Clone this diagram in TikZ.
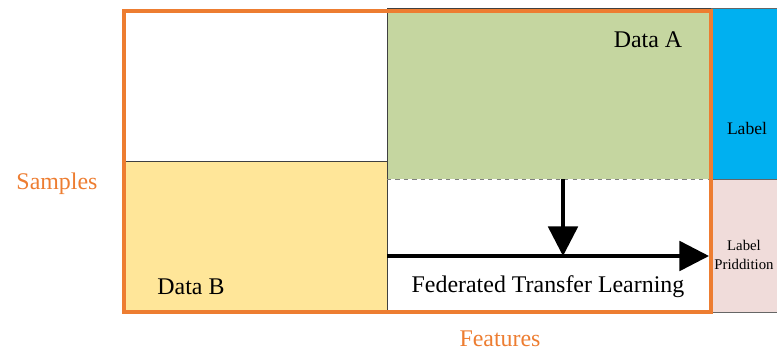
\documentclass[tikz,border=0pt]{standalone}
\usepackage{fontspec}
\setmainfont{Liberation Serif}
\usetikzlibrary{arrows.meta}

\definecolor{florange}{HTML}{ED7D31}
\definecolor{flyellow}{HTML}{FFE699}
\definecolor{flgreen}{HTML}{C5D6A0}
\definecolor{flblue}{HTML}{00B0F0}
\definecolor{flpink}{HTML}{F0DCDA}

\tikzset{
  part/.style={draw=black!75, line width=0.6pt},
  flow/.style={line width=2.5pt, -{Triangle[length=21pt,width=21pt]}},
}

\begin{document}
\begin{tikzpicture}[x=0.025cm, y=-0.025cm]
  \useasboundingbox (0,0) rectangle (777,351);

  % Datenbloecke
  \fill[flyellow] (124,161) rectangle (387,312);
  \draw[part] (124,161) -- (387,161) -- (387,312);
  \fill[flgreen] (387,8) rectangle (711,179);
  \draw[part] (387,312) -- (387,8) -- (711,8);
  \draw[black!50, dashed, line width=0.6pt] (387,179) -- (711,179);

  \begin{scope}[part, draw=black!60]
    \filldraw[fill=flblue] (711,8) rectangle (783,179);
    \filldraw[fill=flpink] (711,179) rectangle (783,312);
  \end{scope}

  \draw[florange, line width=2.7pt] (124,11) rectangle (711,312);

  % Pfeile
  \coordinate (ftl-top) at (563,179);
  \coordinate (ftl-mid) at (563,256);
  \coordinate (ftl-in) at (387,256);
  \coordinate (ftl-out) at (709,256);
  \draw[flow] (ftl-top) -- (ftl-mid);
  \draw[flow] (ftl-in) -- (ftl-out);

  \begin{scope}[font=\fontsize{17}{20}\selectfont]
    \node (data-a) at (648,40) {Data A};
    \node (data-b) at (191,287) {Data B};
    \node (ftl) at (548,287) {Federated Transfer Learning};
    \node[text=florange] (samples) at (57,184) {Samples};
    \node[text=florange] (features) at (500,339) {Features};
  \end{scope}

  \node[font=\fontsize{12.5}{14}\selectfont] (label) at (747,128) {Label};
  \node[font=\fontsize{10.5}{13.5}\selectfont, align=center] (pred) at (744,255) {Label\\Priddition};
\end{tikzpicture}
\end{document}
